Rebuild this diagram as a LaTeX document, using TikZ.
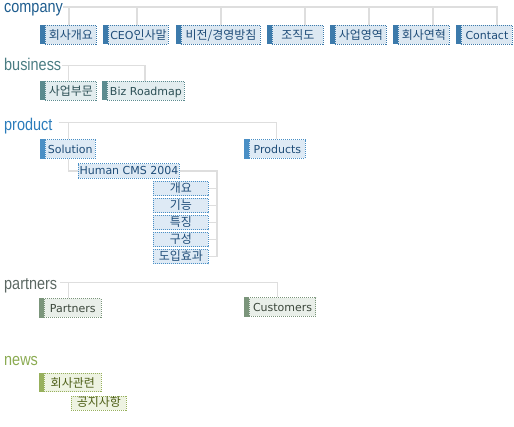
\documentclass[tikz,border=0pt]{standalone}
\usepackage{fontspec}
\setmainfont{DejaVu Sans}
\newfontfamily\kr{Noto Sans CJK KR}[Scale=1.09]
\newfontfamily\headfont{Liberation Sans}[FakeStretch=0.85]

\definecolor{railgray}{HTML}{DEDEDE}
% company
\definecolor{comphead}{HTML}{1D5C8E}
\definecolor{compbar}{HTML}{3C7AAB}
\definecolor{compfill}{HTML}{DCE8F2}
\definecolor{comptext}{HTML}{1E4C78}
% business
\definecolor{bizhead}{HTML}{4A7C82}
\definecolor{bizbar}{HTML}{5B8B8F}
\definecolor{bizfill}{HTML}{E3EDEF}
\definecolor{biztext}{HTML}{2C4F55}
% product
\definecolor{prodhead}{HTML}{2B7CBB}
\definecolor{prodbar}{HTML}{4A8FC5}
\definecolor{prodfill}{HTML}{DEEAF5}
\definecolor{prodtext}{HTML}{1E4C78}
% partners
\definecolor{parthead}{HTML}{5C6863}
\definecolor{partbar}{HTML}{7B957B}
\definecolor{partfill}{HTML}{E9EFE9}
\definecolor{parttext}{HTML}{3B473B}
% news
\definecolor{newshead}{HTML}{8BAB52}
\definecolor{newsbar}{HTML}{97B05C}
\definecolor{newsfill}{HTML}{EEF3E2}
\definecolor{newstext}{HTML}{4D5E17}

\tikzset{
  head/.style={font=\headfont\fontsize{17}{17}\selectfont, text=#1head,
    inner sep=0pt, anchor=base west},
  rail/.style={draw=railgray, line width=1.2pt},
  tab/.style={draw=#1bar, fill=#1fill, text=#1text, line width=0.9pt,
    dash pattern=on 1pt off 1pt, inner xsep=0pt, inner ysep=0pt,
    minimum height=18.5pt, text height=10pt, text depth=0.4pt,
    anchor=north west, font=\fontsize{11}{11}\selectfont},
  subtab/.style={tab=#1, minimum height=14.4pt, text height=7.8pt, text depth=0.4pt}
}

\begin{document}
\begin{tikzpicture}[x=1pt, y=-1pt]
  \useasboundingbox (0,0) rectangle (514,426);

  % Headings
  \node[head=comp] (company)  at (4,12.3)  {company};
  \node[head=biz]  (business) at (4,70.7)  {business};
  \node[head=prod] (product)  at (4,130.7) {product};
  \node[head=part] (partners) at (4,289.3) {partners};
  \node[head=news] (news)     at (4,365)   {news};

  % company
  \node[tab=comp, minimum width=51pt] (c1) at (45,25)  {\kr 회사개요};
  \node[tab=comp, minimum width=60pt] (c2) at (108,25) {CEO{\kr 인사말}};
  \node[tab=comp, minimum width=79pt] (c3) at (181,25) {\kr 비전/경영방침};
  \node[tab=comp, minimum width=51pt] (c4) at (272,25) {\kr 조직도};
  \node[tab=comp, minimum width=51pt] (c5) at (335,25) {\kr 사업영역};
  \node[tab=comp, minimum width=51pt] (c6) at (398,25) {\kr 회사연혁};
  \node[tab=comp, minimum width=51pt] (c7) at (461,25) {Contact};

  % business
  \node[tab=biz, minimum width=51pt] (b1) at (45,81)  {\kr 사업부문};
  \node[tab=biz, minimum width=77pt] (b2) at (107,81) {Biz Roadmap};

  % product
  \node[tab=prod, minimum width=50.5pt] (s1) at (44.5,139.3) {Solution};
  \node[tab=prod, minimum width=56pt]   (s2) at (249,139.3)  {Products};
  \node[subtab=prod, minimum width=101pt] (hcms) at (78,163.3) {Human CMS 2004};
  \node[subtab=prod, minimum width=55pt] (i1) at (153,181) {\kr 개요};
  \node[subtab=prod, minimum width=55pt] (i2) at (153,198) {\kr 기능};
  \node[subtab=prod, minimum width=55pt] (i3) at (153,215) {\kr 특징};
  \node[subtab=prod, minimum width=55pt] (i4) at (153,232) {\kr 구성};
  \node[subtab=prod, minimum width=55pt] (i5) at (153,249) {\kr 도입효과};

  % partners
  \node[tab=part, minimum width=56.7pt] (p1) at (44,298.3) {Partners};
  \node[tab=part, minimum width=66.3pt] (p2) at (249,297.3) {Customers};

  % news
  \node[tab=news, minimum width=56.7pt] (n1) at (44,372.7) {\kr 회사관련};
  \node[subtab=news, minimum width=55pt] (n2) at (71,395.5) {\kr 공지사항};

  % Side bars
  \foreach \n in {c1,c2,c3,c4,c5,c6,c7}
    \fill[compbar] (\n.north west) rectangle ([xshift=-5pt]\n.south west);
  \foreach \n in {b1,b2}
    \fill[bizbar] (\n.north west) rectangle ([xshift=-5pt]\n.south west);
  \foreach \n in {s1,s2}
    \fill[prodbar] (\n.north west) rectangle ([xshift=-5pt]\n.south west);
  \foreach \n in {p1,p2}
    \fill[partbar] (\n.north west) rectangle ([xshift=-5pt]\n.south west);
  \fill[newsbar] (n1.north west) rectangle ([xshift=-5pt]n1.south west);

  % Rails
  \coordinate (cr) at (63,7);
  \coordinate (br) at (62,65.7);
  \coordinate (pr) at (58.7,122.3);
  \coordinate (tr) at (60,282.7);
  \foreach \n/\d in {c1/24,c2/29,c3/40,c4/33,c5/34,c6/35,c7/36}
    \draw[rail] (cr) -| ([xshift=\d pt]\n.north west);
  \foreach \n/\d in {b1/23.3,b2/38}
    \draw[rail] (br) -| ([xshift=\d pt]\n.north west);
  \foreach \n/\d in {s1/23.8,s2/27.7}
    \draw[rail] (pr) -| ([xshift=\d pt]\n.north west);
  \foreach \n/\d in {p1/24.3,p2/28.7}
    \draw[rail] (tr) -| ([xshift=\d pt]\n.north west);

  % Solution subtree
  \draw[rail] ([xshift=23.8pt]s1.south west) |- (hcms.west);
  \draw[rail] (hcms.east) -| ([xshift=8pt]i5.east) -- (i5.east);
  \foreach \n in {i1,i2,i3,i4}
    \draw[rail] (\n.east) -- ++(8,0);

\end{tikzpicture}
\end{document}
